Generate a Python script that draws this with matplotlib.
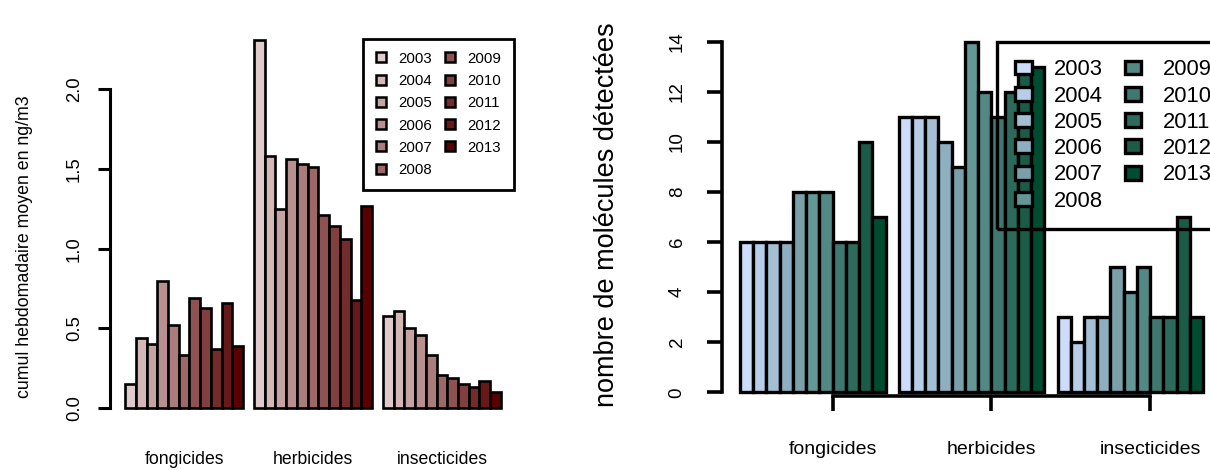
import numpy as np
import matplotlib
matplotlib.use('Agg')
import matplotlib.pyplot as plt
from matplotlib.patches import Patch
from matplotlib import transforms

plt.rcParams['font.family'] = ['Liberation Sans', 'DejaVu Sans']

years = [str(y) for y in range(2003, 2014)]
categories = ['fongicides', 'herbicides', 'insecticides']

# cumul hebdomadaire moyen en ng/m3
conc_fong = [0.15, 0.44, 0.40, 0.80, 0.52, 0.33, 0.69, 0.63, 0.37, 0.66, 0.39]
conc_herb = [2.31, 1.58, 1.25, 1.56, 1.53, 1.51, 1.21, 1.14, 1.06, 0.68, 1.27]
conc_insect = [0.58, 0.61, 0.50, 0.46, 0.33, 0.21, 0.19, 0.15, 0.13, 0.17, 0.10]

# nombre de molecules detectees
nb_fong = [6, 6, 6, 6, 8, 8, 8, 6, 6, 10, 7]
nb_herb = [11, 11, 11, 10, 9, 14, 12, 11, 12, 13, 13]
nb_insect = [3, 2, 3, 3, 5, 4, 5, 3, 3, 7, 3]

reds = ['#dfcbcb', '#d4b8b8', '#c6a4a4', '#b99090', '#ab7c7c', '#9e6868',
        '#8e5252', '#823f3f', '#742b2b', '#671818', '#5a0000']
greens = ['#cddcfb', '#b8cde8', '#a4bfd4', '#8eafc0', '#7aa0aa', '#669797',
          '#538985', '#3f786e', '#2c6a5c', '#1a5c48', '#004c30']

W, H = 1210, 470


def barplot(ax, groups, colors, lw):
    # R style barplot(beside=TRUE): one bar width of space between groups
    n = len(years)
    centers = []
    for g, vals in enumerate(groups):
        x = 1 + g * (n + 1) + np.arange(n)
        ax.bar(x, vals, width=1, align='edge', color=colors,
               edgecolor='black', linewidth=lw, zorder=2)
        centers.append(1 + g * (n + 1) + n / 2)
    return centers


def px_axes(fig, x0, y0, x1, y1):
    return fig.add_axes([x0 / W, 1 - y1 / H, (x1 - x0) / W, (y1 - y0) / H])


fig = plt.figure(figsize=(W / 100, H / 100), dpi=100)

# ---- left panel: concentrations
ax1 = px_axes(fig, 110, 39, 516, 423)
centers1 = barplot(ax1, [conc_fong, conc_herb, conc_insect], reds, 1.9)
ax1.set_xlim(-0.4, 37.4)
ax1.set_ylim(-0.094, 2.316)
for s in ['top', 'right', 'bottom']:
    ax1.spines[s].set_visible(False)
ax1.spines['left'].set_bounds(0, 2)
ax1.spines['left'].set_linewidth(2.2)
ax1.set_yticks([0, 0.5, 1, 1.5, 2])
ax1.set_yticklabels(['0.0', '0.5', '1.0', '1.5', '2.0'])
ax1.tick_params(axis='y', length=8.6, width=2.2, labelsize=13.3, pad=11,
                labelrotation=90)
for lbl in ax1.get_yticklabels():
    lbl.set_va('center')
ax1.set_xticks([])
tr1 = transforms.blended_transform_factory(ax1.transData, fig.transFigure)
for c, name in zip(centers1, categories):
    ax1.text(c, 1 - 460 / H, name, transform=tr1, ha='center', va='center',
             fontsize=12.7)
fig.text(25 / W, 1 - 247 / H, 'cumul hebdomadaire moyen en ng/m3',
         rotation=90, ha='center', va='center', fontsize=12.8)

handles1 = [Patch(facecolor=c, edgecolor='black', linewidth=1.8) for c in reds]
leg1 = fig.legend(handles1, years, ncol=2, loc='upper left',
                  bbox_to_anchor=(363 / W, 1 - 39 / H), fontsize=10.8,
                  handlelength=0.65, handleheight=0.65, handletextpad=0.85,
                  columnspacing=0.85, labelspacing=0.55, borderpad=0.85,
                  borderaxespad=0, fancybox=False, framealpha=1,
                  edgecolor='black')
leg1.get_frame().set_linewidth(2.0)

# ---- right panel: number of molecules
ax2 = px_axes(fig, 721.5, 27.7, 1221.6, 406.3)
centers2 = barplot(ax2, [nb_fong, nb_herb, nb_insect], greens, 2.4)
ax2.set_xlim(-0.4, 37.4)
ax2.set_ylim(-0.56, 14.56)
for s in ['top', 'right']:
    ax2.spines[s].set_visible(False)
ax2.spines['left'].set_bounds(0, 14)
ax2.spines['left'].set_linewidth(2.6)
ticks2 = [c + 1.5 for c in centers2]
ax2.spines['bottom'].set_position(('data', -0.15))
ax2.spines['bottom'].set_bounds(ticks2[0], ticks2[-1])
ax2.spines['bottom'].set_linewidth(2.6)
ax2.set_yticks(range(0, 15, 2))
ax2.tick_params(axis='y', length=10.8, width=2.6, labelsize=13.5, pad=15,
                labelrotation=90)
for lbl in ax2.get_yticklabels():
    lbl.set_va('center')
ax2.set_xticks(ticks2)
ax2.set_xticklabels([])
ax2.tick_params(axis='x', length=11, width=2.6)
tr2 = transforms.blended_transform_factory(ax2.transData, fig.transFigure)
for t, name in zip(ticks2, categories):
    ax2.text(t, 1 - 450 / H, name, transform=tr2, ha='center', va='center',
             fontsize=14)
fig.text(607 / W, 1 - 215 / H, 'nombre de molécules détectées',
         rotation=90, ha='center', va='center', fontsize=19.5)

handles2 = [Patch(facecolor=c, edgecolor='black', linewidth=2.4) for c in greens]
leg2 = fig.legend(handles2, years, ncol=2, loc='upper left',
                  bbox_to_anchor=(997.3 / W, 1 - 41.7 / H), fontsize=15.8,
                  handlelength=0.76, handleheight=0.6, handletextpad=1.0,
                  columnspacing=1.0, labelspacing=0.24, borderpad=0.8,
                  borderaxespad=0, fancybox=False, edgecolor='black')
leg2.get_frame().set_facecolor('none')
leg2.get_frame().set_alpha(None)
leg2.get_frame().set_linewidth(2.4)

fig.savefig('out.png', dpi=100)
